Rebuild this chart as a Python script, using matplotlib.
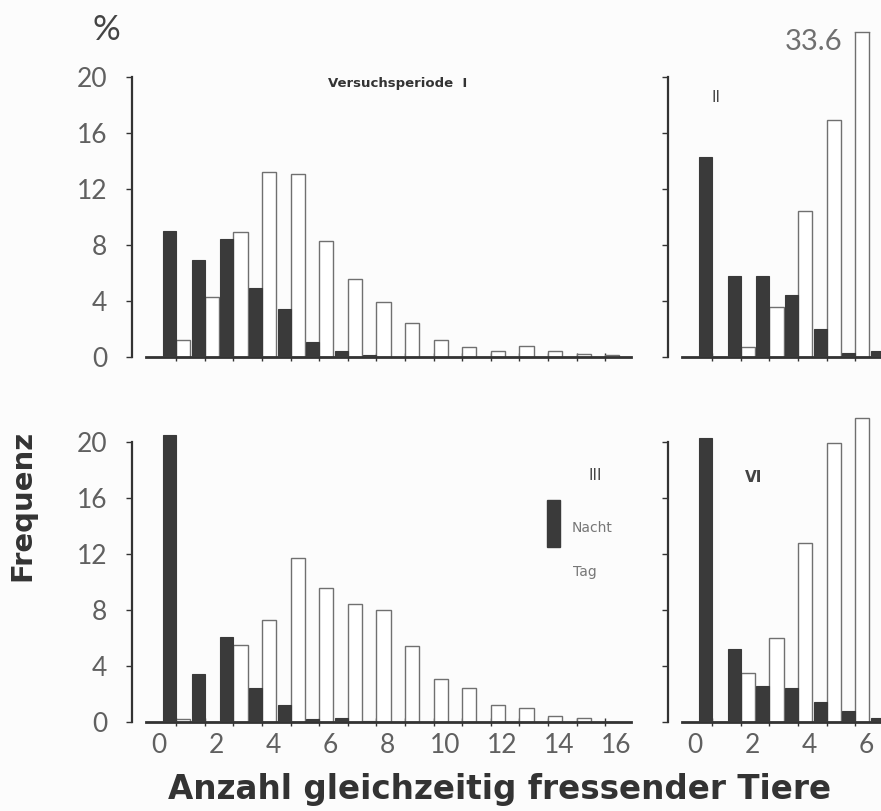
import matplotlib
matplotlib.use("Agg")
import matplotlib.pyplot as plt
from matplotlib.patches import Rectangle
import numpy as np

# Frequency (%) of the number of animals feeding at the same time
# Nacht = night (dark bars), Tag = day (open bars)
period_I_nacht = [9.0, 6.9, 8.4, 4.9, 3.4, 1.1, 0.4, 0.15, 0, 0, 0, 0, 0, 0, 0, 0]
period_I_tag = [1.2, 4.3, 8.9, 13.2, 13.1, 8.3, 5.6, 3.9, 2.4, 1.2, 0.7, 0.4, 0.8, 0.4, 0.2, 0.15]

period_II_nacht = [14.3, 5.8, 5.8, 4.4, 2.0, 0.3, 0.4]
period_II_tag = [0, 0.7, 3.6, 10.4, 16.9, 33.6]

period_III_nacht = [20.5, 3.4, 6.1, 2.4, 1.2, 0.2, 0.3, 0.1, 0, 0, 0, 0, 0, 0, 0, 0]
period_III_tag = [0.2, 0, 5.5, 7.3, 11.7, 9.6, 8.4, 8.0, 5.4, 3.1, 2.4, 1.2, 1.0, 0.4, 0.3, 0]

period_VI_nacht = [20.3, 5.2, 2.6, 2.4, 1.4, 0.8, 0.3]
period_VI_tag = [0, 3.5, 6.0, 12.8, 19.9, 21.7]

y_ticks = [0, 4, 8, 12, 16, 20]
x_ticklabels_left = [0, 2, 4, 6, 8, 10, 12, 14, 16]
x_ticklabels_right = [0, 2, 4, 6]

W, H = 881, 811
fig = plt.figure(figsize=(W / 100, H / 100), dpi=100)
fig.patch.set_facecolor("#fcfcfc")

NUM_FONT = ["Lato", "DejaVu Sans"]
GRAY = "#606060"
DARK = "#3a3a3a"

PX_X = 28.6   # pixels per animal count
PX_Y = 14.0   # pixels per percent
XLIM = (-0.45, 16.5)
YLIM = (0, 23.2)
DARK_OFF, BAR_W = 0.15, 0.45
TAG_OFF, TAG_W = 0.60, 0.50


def make_panel(zero_x_px, zero_y_px, nacht, tag, ylabels, xticks, xlabels):
    left = zero_x_px + XLIM[0] * PX_X
    width = (XLIM[1] - XLIM[0]) * PX_X
    height = (YLIM[1] - YLIM[0]) * PX_Y
    ax = fig.add_axes([left / W, (H - zero_y_px) / H, width / W, height / H])
    ax.set_facecolor("none")
    ax.set_xlim(*XLIM)
    ax.set_ylim(*YLIM)

    xn = np.arange(len(nacht))
    ax.bar(xn + DARK_OFF, nacht, width=BAR_W, align="edge",
           color=DARK, edgecolor=DARK, linewidth=0.8, zorder=3)
    xt = np.arange(len(tag))
    ax.bar(xt + TAG_OFF, tag, width=TAG_W, align="edge",
           facecolor="white", edgecolor="#707070", linewidth=1.0, zorder=2)

    # values above the axis top get a closed cap and their number written beside
    top = YLIM[1]
    for xi, v in zip(xt, tag):
        if v > top:
            ax.plot([xi + TAG_OFF, xi + TAG_OFF + TAG_W], [top, top],
                    color="#707070", lw=1.0, clip_on=False, zorder=4)
            ax.text(xi + TAG_OFF - 0.45, top + 0.25, f"{v:.1f}",
                    ha="right", va="top", fontsize=21, color="#707070",
                    family=NUM_FONT)

    for s in ("top", "right"):
        ax.spines[s].set_visible(False)
    ax.spines["left"].set_position(("outward", 10))
    ax.spines["left"].set_bounds(0, 20)
    ax.spines["left"].set_linewidth(1.6)
    ax.spines["left"].set_color("#333333")
    ax.spines["bottom"].set_linewidth(2.0)
    ax.spines["bottom"].set_color("#333333")

    ax.set_yticks(y_ticks)
    ax.tick_params(axis="y", direction="out", length=4, width=1.0, color="#333333",
                   pad=14, labelsize=19, labelcolor=GRAY, labelleft=ylabels)
    ax.set_xticks(xticks)
    ax.set_xticks(np.arange(16) + TAG_OFF, minor=True)
    ax.tick_params(axis="x", which="major", length=0, pad=8, labelsize=19,
                   labelcolor=GRAY, labelbottom=xlabels)
    ax.tick_params(axis="x", which="minor", direction="inout", length=6,
                   width=1.0, color="#333333")
    for lab in ax.get_xticklabels() + ax.get_yticklabels():
        lab.set_family(NUM_FONT)
    return ax


make_panel(159, 357, period_I_nacht, period_I_tag, True, x_ticklabels_left, False)
make_panel(695, 357, period_II_nacht, period_II_tag, False, x_ticklabels_right, False)
make_panel(159, 722, period_III_nacht, period_III_tag, True, x_ticklabels_left, True)
make_panel(695, 722, period_VI_nacht, period_VI_tag, False, x_ticklabels_right, True)


def ftext(x, y, s, **kw):
    fig.text(x / W, 1 - y / H, s, **kw)


LABEL_FONT = ["DejaVu Sans"]
ftext(106, 30, "%", fontsize=25, color="#444444", ha="center", va="center",
      family=NUM_FONT)
ftext(328, 84, "Versuchsperiode  I", fontsize=9.5, fontweight="bold", color="#333333",
      ha="left", va="center", family=LABEL_FONT)
ftext(716, 97, "II", fontsize=11, color="#444444", ha="center", va="center")
ftext(595, 475, "III", fontsize=11, color="#444444", ha="center", va="center")
ftext(754, 477, "VI", fontsize=11, fontweight="bold", color="#444444", ha="center", va="center")

# legend of panel III
fig.add_artist(Rectangle((547 / W, 1 - 547 / H), 13 / W, 47 / H,
                         transform=fig.transFigure, facecolor=DARK, edgecolor=DARK))
ftext(572, 528, "Nacht", fontsize=10, color="#777777", ha="left", va="center")
ftext(573, 572, "Tag", fontsize=10, color="#777777", ha="left", va="center")

ftext(22, 505, "Frequenz", fontsize=21, fontweight="bold", color="#333333",
      rotation=90, ha="center", va="center", family=LABEL_FONT)
ftext(500, 790, "Anzahl gleichzeitig fressender Tiere", fontsize=23.5, fontweight="bold",
      color="#333333", ha="center", va="center", family=LABEL_FONT)

fig.savefig("out.png", dpi=100, facecolor=fig.get_facecolor())
